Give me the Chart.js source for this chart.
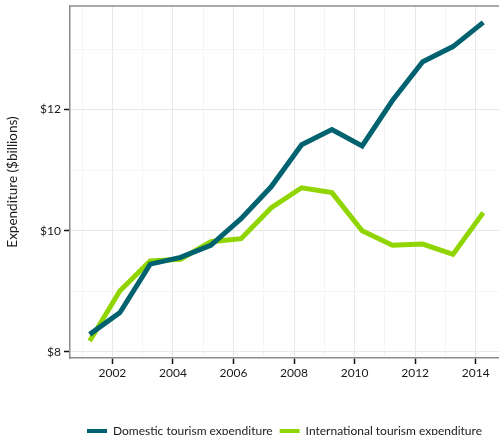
<!DOCTYPE html>
<html>
<head>
<meta charset="utf-8">
<script src="https://cdn.jsdelivr.net/npm/chart.js@4/dist/chart.umd.min.js"></script>
<style>
  html, body { margin: 0; padding: 0; background: #fff; overflow: hidden; }
  #wrap { width: 499px; height: 449px; position: relative; }
</style>
</head>
<body>
<div id="wrap"><canvas id="c"></canvas></div>
<script>
// Financial-year midpoints (plotted positions)
const periods = [2001.25, 2002.25, 2003.25, 2004.25, 2005.25, 2006.25, 2007.25,
                 2008.25, 2009.25, 2010.25, 2011.25, 2012.25, 2013.25, 2014.25];
const domestic = [8.29, 8.65, 9.45, 9.56, 9.76, 10.20, 10.73, 11.42, 11.67, 11.40, 12.15, 12.79, 13.04, 13.44];
const international = [8.18, 9.01, 9.50, 9.53, 9.82, 9.87, 10.38, 10.71, 10.63, 10.00, 9.76, 9.78, 9.61, 10.30];
const seriesNames = ["Domestic tourism expenditure", "International tourism expenditure"];
const xTickYears = [2002, 2004, 2006, 2008, 2010, 2012, 2014];
const yTickValues = [8, 10, 12];
const yTitle = "Expenditure ($billions)";

const DOM_COLOR = "#00626f";
const INT_COLOR = "#91d500";

const toPts = (vals) => vals.map((v, i) => ({ x: periods[i], y: v }));

const topBorder = {
  id: "topBorder",
  afterDraw(chart) {
    const { ctx, chartArea } = chart;
    ctx.save();
    ctx.strokeStyle = "#8c8c8c";
    ctx.lineWidth = 1.3;
    ctx.beginPath();
    ctx.moveTo(chartArea.left, chartArea.top);
    ctx.lineTo(chartArea.right, chartArea.top);
    ctx.stroke();
    ctx.restore();
  }
};

new Chart(document.getElementById("c"), {
  type: "line",
  data: {
    datasets: [
      { label: seriesNames[0], data: toPts(domestic), borderColor: DOM_COLOR, backgroundColor: DOM_COLOR,
        borderWidth: 5, pointRadius: 0, tension: 0, fill: false },
      { label: seriesNames[1], data: toPts(international), borderColor: INT_COLOR, backgroundColor: INT_COLOR,
        borderWidth: 5, pointRadius: 0, tension: 0, fill: false }
    ]
  },
  options: {
    responsive: true,
    maintainAspectRatio: false,
    animation: false,
    layout: { padding: { top: 6, right: 0, left: 0, bottom: 2 } },
    plugins: {
      tooltip: { enabled: false },
      legend: {
        position: "bottom",
        fullSize: false,
        labels: {
          font: { family: "Lato", size: 12 },
          color: "#1a1a1a",
          boxWidth: 20,
          boxHeight: 4,
          padding: 7,
          generateLabels(chart) {
            return chart.data.datasets.map((d, i) => ({
              text: d.label, fillStyle: d.borderColor, strokeStyle: d.borderColor,
              lineWidth: 0, hidden: false, datasetIndex: i, fontColor: "#1a1a1a"
            }));
          }
        }
      }
    },
    scales: {
      x: {
        type: "linear",
        min: 2000.6,
        max: 2014.77,
        afterBuildTicks(scale) {
          const t = [];
          for (let y = 2001; y <= 2014; y++) t.push({ value: y });
          scale.ticks = t;
        },
        afterFit(scale) { scale.height = 60; scale.paddingRight = 0; scale.paddingLeft = 0; },
        ticks: {
          autoSkip: false,
          maxRotation: 0,
          padding: 2,
          color: "#1a1a1a",
          font: { family: "Lato", size: 12 },
          callback: (v) => xTickYears.includes(v) ? String(v) : ""
        },
        grid: {
          color: (c) => (c.tick && xTickYears.includes(c.tick.value)) ? "#e8e8e8" : "#f5f5f5",
          lineWidth: 1,
          tickColor: (c) => (c.tick && xTickYears.includes(c.tick.value)) ? "#111" : "rgba(0,0,0,0)",
          tickLength: 6,
          tickWidth: 1.5
        },
        border: { display: true, color: "#8c8c8c", width: 1.5 }
      },
      y: {
        type: "linear",
        min: 7.9,
        max: 13.71,
        afterBuildTicks(scale) {
          const t = [];
          for (let v = 8; v <= 13; v++) t.push({ value: v });
          scale.ticks = t;
        },
        afterFit(scale) { scale.width = 70; scale.paddingTop = 0; scale.paddingBottom = 0; },
        ticks: {
          autoSkip: false,
          padding: 3,
          color: "#1a1a1a",
          font: { family: "Lato", size: 12 },
          callback: (v) => yTickValues.includes(v) ? "$" + v : ""
        },
        grid: {
          color: (c) => (c.tick && yTickValues.includes(c.tick.value)) ? "#e8e8e8" : "#f5f5f5",
          lineWidth: 1,
          tickColor: (c) => (c.tick && yTickValues.includes(c.tick.value)) ? "#111" : "rgba(0,0,0,0)",
          tickLength: 6,
          tickWidth: 1.5
        },
        border: { display: true, color: "#8c8c8c", width: 1.5 },
        title: {
          display: true,
          text: yTitle,
          color: "#1a1a1a",
          font: { family: "Lato", size: 13.5 },
          padding: { top: 5, bottom: 0 }
        }
      }
    }
  },
  plugins: [topBorder]
});
</script>
</body>
</html>
